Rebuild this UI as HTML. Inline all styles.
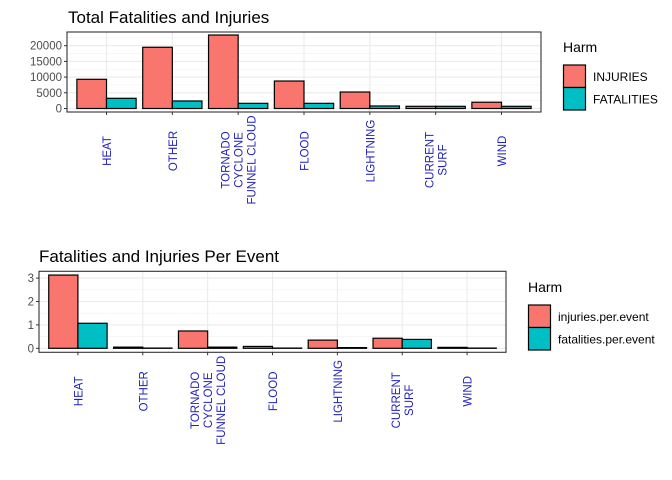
<!DOCTYPE html>
<html><head><meta charset="utf-8"><style>
body{margin:0;background:#fff;}
svg{display:block;font-family:"Liberation Sans",Arial,sans-serif;}
</style></head><body>
<svg id="chart" width="672" height="480" xmlns="http://www.w3.org/2000/svg"></svg>
<script>
const categories = [["HEAT"],["OTHER"],["TORNADO","CYCLONE","FUNNEL CLOUD"],["FLOOD"],["LIGHTNING"],["CURRENT","SURF"],["WIND"]];
const injuriesTotal = [9300,19500,23400,8750,5250,700,2000];
const fatalitiesTotal = [3250,2400,1650,1650,800,700,700];
const topTicks = [0,5000,10000,15000,20000];
const injuriesPerEvent = [3.13,0.05,0.74,0.08,0.35,0.43,0.04];
const fatalitiesPerEvent = [1.07,0.01,0.05,0.01,0.03,0.38,0.01];
const bottomTicks = [0,1,2,3];
const topLegend = ["INJURIES","FATALITIES"];
const bottomLegend = ["injuries.per.event","fatalities.per.event"];

const NS="http://www.w3.org/2000/svg";
const svg=document.getElementById('chart');
function mk(tag,attrs,parent,text){const e=document.createElementNS(NS,tag);for(const k in attrs)e.setAttribute(k,attrs[k]);if(text!==undefined)e.textContent=text;(parent||svg).appendChild(e);return e;}

function panel(o){
  const g=mk('g',{});
  
  
  const {x0,x1,y0,y1,zeroY,unit}=o;
  const y=v=>zeroY-v*unit;
  const step=(x1-x0)/(categories.length-1+1.2);
  const cx=i=>x0+step*(i+0.6);
  const tstep=o.ticks[1]-o.ticks[0];
  for(let v=-tstep/2; y(v)>=y0; v+=tstep){ if(y(v)<=y1) { const l=mk('line',{x1:x0,x2:x1,y1:y(v),y2:y(v),stroke:'#f2f2f2','stroke-width':0.6},g);   } }
  o.ticks.forEach(v=>{
    const l=mk('line',{x1:x0,x2:x1,y1:y(v),y2:y(v),stroke:'#ebebeb','stroke-width':1.1},g);
    
    
    const t=mk('text',{x:x0-5,y:y(v)+4,'text-anchor':'end','font-size':11.5,fill:'#4d4d4d'},g,String(v));
    
    
    mk('line',{x1:x0-3,x2:x0,y1:y(v),y2:y(v),stroke:'#333','stroke-width':1},g);
  });
  categories.forEach((c,i)=>{
    mk('line',{x1:cx(i),x2:cx(i),y1:y0,y2:y1,stroke:'#ebebeb','stroke-width':1.1},g);
  });
  const bw=step*0.9/2;
  categories.forEach((c,i)=>{
    const a=o.s1[i], b=o.s2[i];
    const r1=mk('rect',{x:cx(i)-bw,y:y(a),width:bw,height:zeroY-y(a),fill:'#f8766d',stroke:'#000','stroke-width':1.2},g);
    
    
    const r2=mk('rect',{x:cx(i),y:y(b),width:bw,height:zeroY-y(b),fill:'#00bfc4',stroke:'#000','stroke-width':1.2},g);
    
    
    mk('line',{x1:cx(i),x2:cx(i),y1:y1,y2:y1+3,stroke:'#333','stroke-width':1},g);
    const n=c.length;
    const centerY = y1 + (n>1?48:39);
    c.forEach((line,k)=>{
      const lx=cx(i)+(k-(n-1)/2)*13+4.5;
      const t=mk('text',{x:lx,y:centerY,'text-anchor':'middle','font-size':11.5,fill:'#2222bb',transform:`rotate(-90 ${lx} ${centerY})`},g,line);
      
      
    });
  });
  const fr=mk('rect',{x:x0,y:y0,width:x1-x0,height:y1-y0,fill:'none',stroke:'#333','stroke-width':1.1},g);
  
  
  const ti=mk('text',{x:o.titleX,y:o.titleY,'font-size':17,fill:'#000'},g,o.title);
  
  
  const lg=mk('g',{},g);
  
  
  const lt=mk('text',{x:o.lx,y:o.ly,'font-size':14,fill:'#000'},lg,'Harm');
  
  
  ['#f8766d','#00bfc4'].forEach((col,k)=>{
    const ky=o.ly+13+k*22.5;
    const kr=mk('rect',{x:o.lx+0.5,y:ky,width:22,height:22.5,fill:col,stroke:'#000','stroke-width':1.2},lg);
    
    
    const kt=mk('text',{x:o.lx+30,y:ky+16,'font-size':12,fill:'#000'},lg,o.legend[k]);
    
    
  });
}
panel({name:'total-panel',x0:67,x1:541,y0:32,y1:112,zeroY:108.5,unit:15.7/5000,ticks:topTicks,s1:injuriesTotal,s2:fatalitiesTotal,title:'Total Fatalities and Injuries',titleX:68,titleY:23,legend:topLegend,lx:563,ly:52});
panel({name:'per-event-panel',x0:39,x1:506,y0:271.3,y1:352.3,zeroY:348.3,unit:23.4,ticks:bottomTicks,s1:injuriesPerEvent,s2:fatalitiesPerEvent,title:'Fatalities and Injuries Per Event',titleX:39,titleY:262,legend:bottomLegend,lx:528,ly:292});
</script>
</body></html>
